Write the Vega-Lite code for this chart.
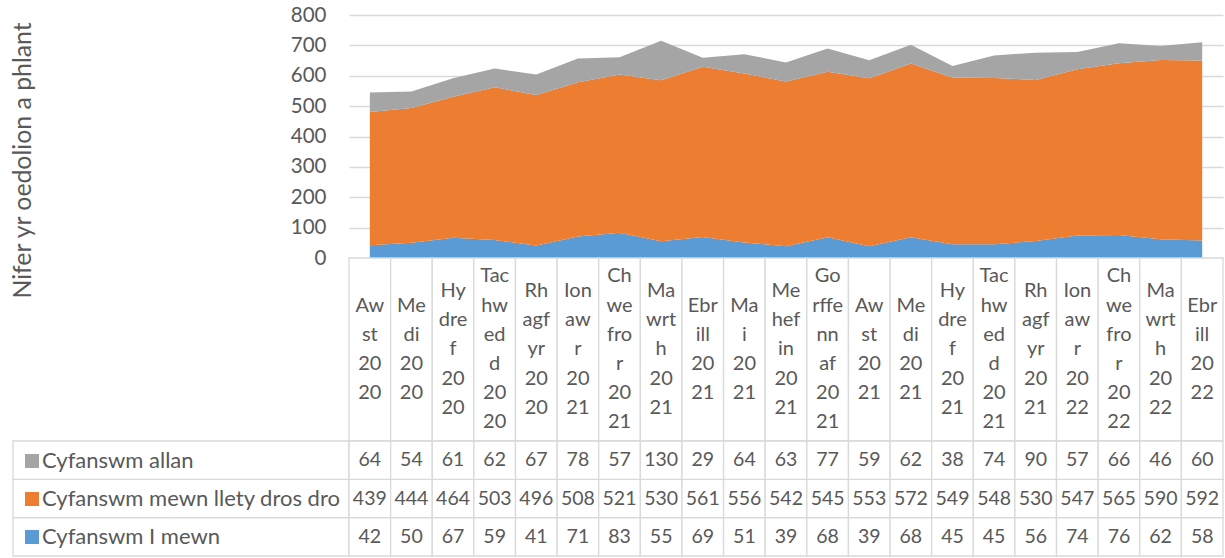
{
  "$schema": "https://vega.github.io/schema/vega-lite/v6.json",
  "background": "white",
  "padding": {"left": 10, "top": 5, "right": 0, "bottom": 0},
  "autosize": {"type": "pad"},
  "config": {
    "font": "Lato",
    "view": {"stroke": null},
    "text": {"color": "#595959"},
    "concat": {"spacing": 0}
  },
  "data": {
    "values": [
      {"month": "Awst 2020", "label": "Aw\nst\n20\n20", "Cyfanswm allan": 64, "Cyfanswm mewn llety dros dro": 439, "Cyfanswm I mewn": 42},
      {"month": "Medi 2020", "label": "Me\ndi\n20\n20", "Cyfanswm allan": 54, "Cyfanswm mewn llety dros dro": 444, "Cyfanswm I mewn": 50},
      {"month": "Hydref 2020", "label": "Hy\ndre\nf\n20\n20", "Cyfanswm allan": 61, "Cyfanswm mewn llety dros dro": 464, "Cyfanswm I mewn": 67},
      {"month": "Tachwedd 2020", "label": "Tac\nhw\ned\nd\n20\n20", "Cyfanswm allan": 62, "Cyfanswm mewn llety dros dro": 503, "Cyfanswm I mewn": 59},
      {"month": "Rhagfyr 2020", "label": "Rh\nagf\nyr\n20\n20", "Cyfanswm allan": 67, "Cyfanswm mewn llety dros dro": 496, "Cyfanswm I mewn": 41},
      {"month": "Ionawr 2021", "label": "Ion\naw\nr\n20\n21", "Cyfanswm allan": 78, "Cyfanswm mewn llety dros dro": 508, "Cyfanswm I mewn": 71},
      {"month": "Chwefror 2021", "label": "Ch\nwe\nfro\nr\n20\n21", "Cyfanswm allan": 57, "Cyfanswm mewn llety dros dro": 521, "Cyfanswm I mewn": 83},
      {"month": "Mawrth 2021", "label": "Ma\nwrt\nh\n20\n21", "Cyfanswm allan": 130, "Cyfanswm mewn llety dros dro": 530, "Cyfanswm I mewn": 55},
      {"month": "Ebrill 2021", "label": "Ebr\nill\n20\n21", "Cyfanswm allan": 29, "Cyfanswm mewn llety dros dro": 561, "Cyfanswm I mewn": 69},
      {"month": "Mai 2021", "label": "Ma\ni\n20\n21", "Cyfanswm allan": 64, "Cyfanswm mewn llety dros dro": 556, "Cyfanswm I mewn": 51},
      {"month": "Mehefin 2021", "label": "Me\nhef\nin\n20\n21", "Cyfanswm allan": 63, "Cyfanswm mewn llety dros dro": 542, "Cyfanswm I mewn": 39},
      {"month": "Gorffennaf 2021", "label": "Go\nrffe\nnn\naf\n20\n21", "Cyfanswm allan": 77, "Cyfanswm mewn llety dros dro": 545, "Cyfanswm I mewn": 68},
      {"month": "Awst 2021", "label": "Aw\nst\n20\n21", "Cyfanswm allan": 59, "Cyfanswm mewn llety dros dro": 553, "Cyfanswm I mewn": 39},
      {"month": "Medi 2021", "label": "Me\ndi\n20\n21", "Cyfanswm allan": 62, "Cyfanswm mewn llety dros dro": 572, "Cyfanswm I mewn": 68},
      {"month": "Hydref 2021", "label": "Hy\ndre\nf\n20\n21", "Cyfanswm allan": 38, "Cyfanswm mewn llety dros dro": 549, "Cyfanswm I mewn": 45},
      {"month": "Tachwedd 2021", "label": "Tac\nhw\ned\nd\n20\n21", "Cyfanswm allan": 74, "Cyfanswm mewn llety dros dro": 548, "Cyfanswm I mewn": 45},
      {"month": "Rhagfyr 2021", "label": "Rh\nagf\nyr\n20\n21", "Cyfanswm allan": 90, "Cyfanswm mewn llety dros dro": 530, "Cyfanswm I mewn": 56},
      {"month": "Ionawr 2022", "label": "Ion\naw\nr\n20\n22", "Cyfanswm allan": 57, "Cyfanswm mewn llety dros dro": 547, "Cyfanswm I mewn": 74},
      {"month": "Chwefror 2022", "label": "Ch\nwe\nfro\nr\n20\n22", "Cyfanswm allan": 66, "Cyfanswm mewn llety dros dro": 565, "Cyfanswm I mewn": 76},
      {"month": "Mawrth 2022", "label": "Ma\nwrt\nh\n20\n22", "Cyfanswm allan": 46, "Cyfanswm mewn llety dros dro": 590, "Cyfanswm I mewn": 62},
      {"month": "Ebrill 2022", "label": "Ebr\nill\n20\n22", "Cyfanswm allan": 60, "Cyfanswm mewn llety dros dro": 592, "Cyfanswm I mewn": 58}
    ]
  },
  "columns": 2,
  "spacing": 0,
  "bounds": "flush",
  "concat": [
    {
      "width": 336,
      "height": 243,
      "mark": {"type": "text", "text": ""}
    },
    {
      "width": 874,
      "height": 243,
      "transform": [
        {"fold": ["Cyfanswm I mewn", "Cyfanswm mewn llety dros dro", "Cyfanswm allan"], "as": ["series", "value"]},
        {"calculate": "indexof(['Cyfanswm I mewn', 'Cyfanswm mewn llety dros dro', 'Cyfanswm allan'], datum.series)", "as": "stackOrder"}
      ],
      "mark": {"type": "area", "opacity": 1},
      "encoding": {
        "x": {"field": "month", "type": "ordinal", "sort": null, "scale": {"type": "point", "padding": 0.5}, "axis": null},
        "y": {
          "field": "value", "type": "quantitative", "stack": "zero",
          "scale": {"domain": [0, 800], "nice": false},
          "axis": {
            "values": [0, 100, 200, 300, 400, 500, 600, 700, 800],
            "title": "Nifer yr oedolion a phlant",
            "grid": true, "gridColor": "#d9d9d9", "gridWidth": 1.3,
            "domain": false, "ticks": false, "tickSize": 0,
            "labelPadding": 23, "labelFontSize": 20.5, "labelColor": "#595959",
            "titleFontSize": 24.8, "titleFontWeight": "normal", "titleColor": "#595959", "titlePadding": 255, "titleY": 145
          }
        },
        "color": {
          "field": "series", "type": "nominal",
          "scale": {"domain": ["Cyfanswm allan", "Cyfanswm mewn llety dros dro", "Cyfanswm I mewn"], "range": ["#a5a5a5", "#ed7d31", "#5b9bd5"]},
          "legend": {
            "orient": "none", "legendX": 8, "legendY": 435, "title": null, "direction": "vertical",
            "symbolType": "square", "symbolSize": 196, "symbolStrokeWidth": 0, "symbolOpacity": 1,
            "labelFontSize": 22, "labelColor": "#595959", "labelOffset": -1, "rowPadding": 16, "labelLimit": 400
          }
        },
        "order": {"field": "stackOrder", "type": "quantitative"}
      }
    },
    {
      "width": 336,
      "height": 183,
      "mark": {"type": "text", "text": ""}
    },
    {
      "width": 874,
      "height": 183,
      "transform": [
        {"calculate": "length(split(datum.label, '\\n'))", "as": "lineCount"}
      ],
      "encoding": {
        "x": {"field": "month", "type": "nominal", "sort": null, "scale": {"paddingInner": 0, "paddingOuter": 0}, "axis": null}
      },
      "layer": [
        {
          "mark": {"type": "rect", "fill": "white", "stroke": "#d9d9d9", "strokeWidth": 1.3}
        },
        {
          "mark": {"type": "text", "lineBreak": "\n", "lineHeight": 29.2, "fontSize": 20, "baseline": "middle", "color": "#595959"},
          "encoding": {
            "y": {"field": "lineCount", "type": "quantitative", "scale": {"domain": [-5.267, 7.267], "nice": false, "zero": false}, "axis": null},
            "text": {"field": "label"}
          }
        }
      ]
    },
    {
      "width": 336,
      "height": 115,
      "transform": [
        {"fold": ["Cyfanswm I mewn", "Cyfanswm mewn llety dros dro", "Cyfanswm allan"], "as": ["series", "value"]},
        {"filter": "datum.month == 'Awst 2020'"}
      ],
      "mark": {"type": "rect", "fill": "white", "stroke": "#d9d9d9", "strokeWidth": 1.3},
      "encoding": {
        "y": {"field": "series", "type": "nominal", "scale": {"domain": ["Cyfanswm allan", "Cyfanswm mewn llety dros dro", "Cyfanswm I mewn"], "paddingInner": 0, "paddingOuter": 0}, "axis": null}
      }
    },
    {
      "width": 874,
      "height": 115,
      "transform": [
        {"fold": ["Cyfanswm I mewn", "Cyfanswm mewn llety dros dro", "Cyfanswm allan"], "as": ["series", "value"]}
      ],
      "encoding": {
        "x": {"field": "month", "type": "nominal", "sort": null, "scale": {"paddingInner": 0, "paddingOuter": 0}, "axis": null},
        "y": {"field": "series", "type": "nominal", "scale": {"domain": ["Cyfanswm allan", "Cyfanswm mewn llety dros dro", "Cyfanswm I mewn"], "paddingInner": 0, "paddingOuter": 0}, "axis": null}
      },
      "layer": [
        {"mark": {"type": "rect", "fill": "white", "stroke": "#d9d9d9", "strokeWidth": 1.3}},
        {"mark": {"type": "text", "fontSize": 19.5, "baseline": "middle", "color": "#595959"}, "encoding": {"text": {"field": "value", "type": "quantitative"}}}
      ]
    }
  ]
}
